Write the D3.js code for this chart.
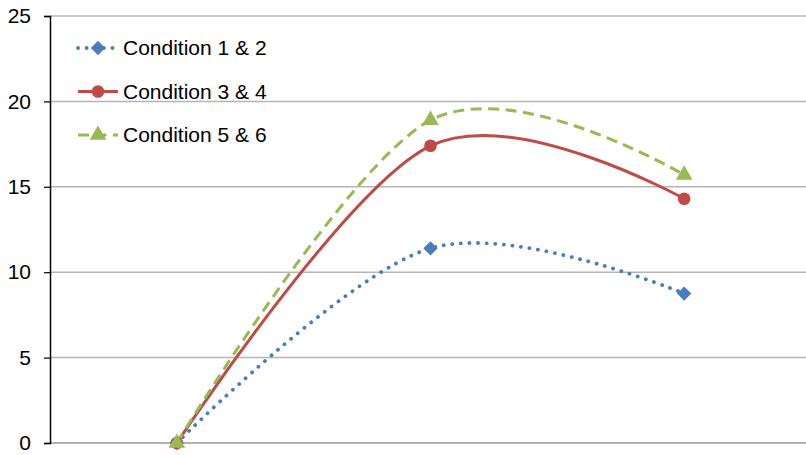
<!DOCTYPE html>
<html>
<head>
<meta charset="utf-8">
<script src="https://cdn.jsdelivr.net/npm/d3@7"></script>
<style>
  html, body { margin: 0; padding: 0; background: #fff; }
  svg { display: block; font-family: "Liberation Sans", Arial, sans-serif; }
</style>
</head>
<body>
<div class="chart"></div>
<script>
// data
const categories = ["t1", "t2", "t3"];
const cond12 = [0, 11.4, 8.75];
const cond34 = [0, 17.4, 14.3];
const cond56 = [0, 18.9, 15.7];
const seriesNames = ["Condition 1 & 2", "Condition 3 & 4", "Condition 5 & 6"];
const yTicks = [0, 5, 10, 15, 20, 25];

const width = 806, height = 455;
const margin = {l: 50, t: 16, r: -5, b: 12};

const svg = d3.select('.chart').append('svg')
  .attr('width', width)
  .attr('height', height);

const x = d3.scalePoint()
  .domain(categories)
  .range([margin.l, width - margin.r])
  .padding(0.5);

const y = d3.scaleLinear()
  .domain([0, 25])
  .range([height - margin.b, margin.t]);

// gridlines
svg.append('g')
  .selectAll('line')
  .data(yTicks.filter(d => d > 0))
  .join('line')
  .attr('x1', margin.l)
  .attr('x2', width)
  .attr('y1', d => y(d))
  .attr('y2', d => y(d))
  .attr('stroke', '#b5b5b5')
  .attr('stroke-width', 1.5);

// bottom line at 0
svg.append('line')
  .attr('x1', margin.l).attr('x2', width)
  .attr('y1', y(0)).attr('y2', y(0))
  .attr('stroke', '#999').attr('stroke-width', 1.5);

// y axis
const yAxis = svg.append('g')
  .attr('transform', `translate(${margin.l},0)`)
  .call(d3.axisLeft(y).tickValues(yTicks).tickSize(6).tickPadding(13).tickFormat(d3.format('d')));
yAxis.select('.domain').attr('stroke', '#000').attr('stroke-width', 1.5);
yAxis.selectAll('.tick line').attr('stroke', '#000').attr('stroke-width', 1.2);
yAxis.selectAll('.tick text').attr('font-size', 21).attr('fill', '#000').attr('font-family', '"Liberation Sans", Arial, sans-serif');

const series = [
  {name: seriesNames[0], values: cond12, color: '#4a7ebb', dash: '0.1 8.5', cap: 'round', width: 3.8, marker: d3.symbolDiamond2, msize: 130},
  {name: seriesNames[1], values: cond34, color: '#be4b48', dash: null, cap: 'butt', width: 3, marker: d3.symbolCircle, msize: 125},
  {name: seriesNames[2], values: cond56, color: '#98b954', dash: '11 6.5', cap: 'butt', width: 3, marker: d3.symbolTriangle, msize: 120}
];

const line = d3.line()
  .x((d, i) => x(categories[i]))
  .y(d => y(d))
  .curve(d3.curveCardinal.tension(0));

const gSeries = svg.append('g');
series.forEach(s => {
  gSeries.append('path')
    .datum(s.values)
    .attr('d', line)
    .attr('fill', 'none')
    .attr('stroke', s.color)
    .attr('stroke-width', s.width)
    .attr('stroke-linecap', s.cap)
    .attr('stroke-dasharray', s.dash);
});
series.forEach(s => {
  gSeries.append('g')
    .selectAll('path')
    .data(s.values)
    .join('path')
    .attr('transform', (d, i) => `translate(${x(categories[i])},${y(d)})`)
    .attr('d', d3.symbol().type(s.marker).size(s.msize))
    .attr('fill', s.color);
});

// legend
const legend = svg.append('g').attr('transform', 'translate(78,48)');
const item = legend.selectAll('g')
  .data(series)
  .join('g')
  .attr('transform', (d, i) => `translate(0,${i * 43.5})`);
item.append('line')
  .attr('x1', 0).attr('x2', 40)
  .attr('stroke', d => d.color)
  .attr('stroke-width', d => d.width)
  .attr('stroke-linecap', d => d.cap)
  .attr('stroke-dasharray', d => d.dash);
item.append('path')
  .attr('transform', 'translate(20,0)')
  .attr('d', d => d3.symbol().type(d.marker).size(d.msize)())
  .attr('fill', d => d.color);
item.append('text')
  .attr('x', 45)
  .attr('dy', '0.35em')
  .attr('font-size', 21)
  .attr('fill', '#000')
  .text(d => d.name);
</script>
</body>
</html>
